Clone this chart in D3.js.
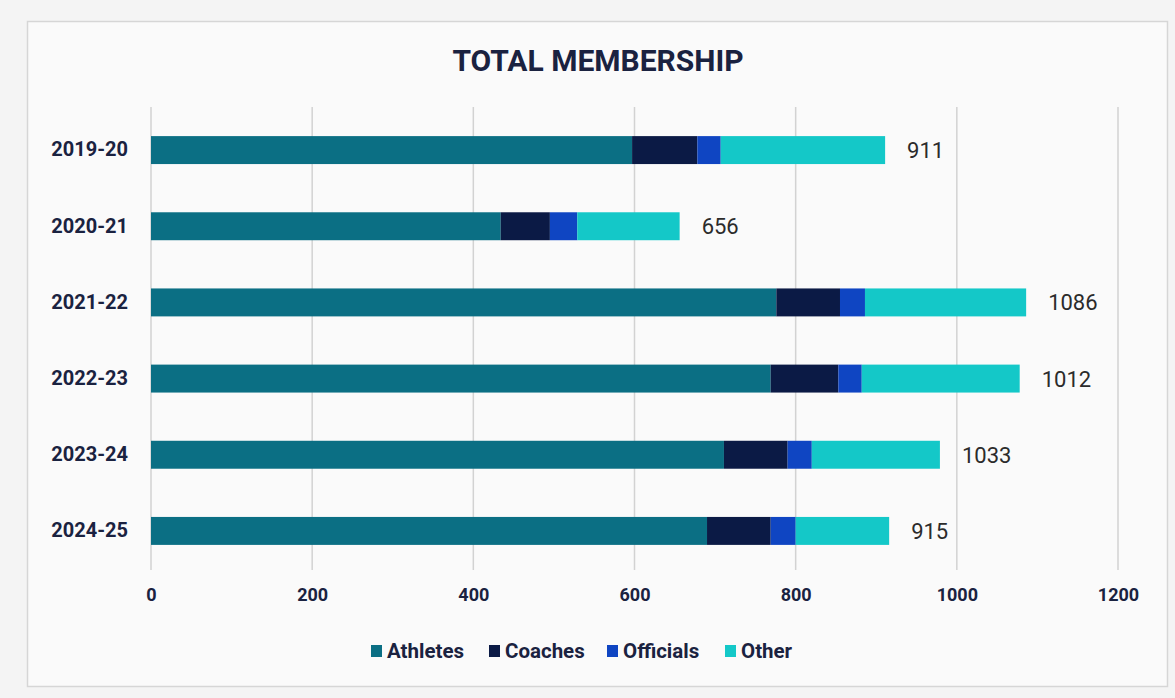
<!DOCTYPE html>
<html>
<head>
<meta charset="utf-8">
<script src="https://cdn.jsdelivr.net/npm/d3@7.9.0/dist/d3.min.js"></script>
<style>
  html, body { margin: 0; padding: 0; background: #f4f4f4; }
  svg { display: block; font-family: Roboto, "Open Sans", sans-serif; }
</style>
</head>
<body>
<div id="chart"></div>
<script>
// data
const seasons = ['2019-20', '2020-21', '2021-22', '2022-23', '2023-24', '2024-25'];
const athletes = [597, 434, 776, 769, 711, 690];
const coaches = [81, 61, 79, 84, 79, 79];
const officials = [29, 34, 31, 29, 30, 31];
const other = [204, 127, 200, 196, 159, 116];
const totalLabels = ['911', '656', '1086', '1012', '1033', '915'];
const groups = ['Athletes', 'Coaches', 'Officials', 'Other'];
const xTicks = [0, 200, 400, 600, 800, 1000, 1200];

const colors = {
  Athletes: '#0b6f84',
  Coaches: '#0b1a45',
  Officials: '#0f45c2',
  Other: '#14c8c8'
};

const width = 1175;
const height = 698;
const navy = '#1a2240';

const rows = seasons.map((s, i) => ({
  season: s,
  Athletes: athletes[i],
  Coaches: coaches[i],
  Officials: officials[i],
  Other: other[i],
  label: totalLabels[i]
}));

const svg = d3.select('#chart')
  .append('svg')
  .attr('width', width)
  .attr('height', height);

// card
svg.append('rect')
  .attr('x', 27.5).attr('y', 21.5)
  .attr('width', 1140).attr('height', 665)
  .attr('fill', '#fafafa')
  .attr('stroke', '#d6d6d6')
  .attr('stroke-width', 1.5);

svg.append('text')
  .attr('x', 598).attr('y', 71)
  .attr('text-anchor', 'middle')
  .attr('fill', navy)
  .attr('font-weight', 700)
  .attr('font-size', 30)
  .text('TOTAL MEMBERSHIP');

const xScale = d3.scaleLinear().domain([0, 1200]).range([151, 1118]);
const yScale = d3.scaleBand()
  .domain(seasons)
  .range([112, 569])
  .paddingInner(0.633)
  .paddingOuter(0.3165);

// gridlines
svg.append('g')
  .attr('class', 'gridlines')
  .selectAll('line')
  .data(xTicks)
  .join('line')
  .attr('x1', (d) => xScale(d))
  .attr('x2', (d) => xScale(d))
  .attr('y1', 107)
  .attr('y2', 570)
  .attr('stroke', '#d2d2d2')
  .attr('stroke-width', 1.5);

// x tick labels
const xAxis = svg.append('g')
  .attr('transform', 'translate(0, 588)')
  .call(d3.axisBottom(xScale).tickValues(xTicks).tickFormat(d3.format('d')).tickSize(0).tickPadding(0));
xAxis.select('.domain').remove();
xAxis.selectAll('text')
  .attr('dy', '0.71em')
  .attr('font-family', 'Roboto, sans-serif')
  .attr('font-size', 18)
  .attr('font-weight', 700)
  .attr('fill', navy);

// y labels
const yAxis = svg.append('g')
  .attr('transform', 'translate(151, 0)')
  .call(d3.axisLeft(yScale).tickSize(0).tickPadding(23));
yAxis.select('.domain').remove();
yAxis.selectAll('text')
  .attr('font-family', 'Roboto, sans-serif')
  .attr('font-size', 20)
  .attr('font-weight', 700)
  .attr('fill', navy);

// stacked bars
const stacked = d3.stack().keys(groups)(rows);
svg.append('g')
  .selectAll('g')
  .data(stacked)
  .join('g')
  .attr('fill', (d) => colors[d.key])
  .selectAll('rect')
  .data((d) => d)
  .join('rect')
  .attr('x', (d) => xScale(d[0]))
  .attr('width', (d) => xScale(d[1]) - xScale(d[0]))
  .attr('y', (d) => yScale(d.data.season))
  .attr('height', yScale.bandwidth());

// total labels
const lastLayer = stacked[stacked.length - 1];
svg.append('g')
  .selectAll('text')
  .data(lastLayer)
  .join('text')
  .attr('x', (d) => xScale(d[1]) + 22)
  .attr('y', (d) => yScale(d.data.season) + yScale.bandwidth() / 2)
  .attr('dy', '0.36em')
  .attr('font-size', 22)
  .attr('fill', '#2b2b2b')
  .text((d) => d.data.label);

// legend
const legendX = [371, 489, 607, 725];
const legend = svg.append('g')
  .selectAll('g')
  .data(groups)
  .join('g')
  .attr('transform', (d, i) => `translate(${legendX[i]}, 645)`);
legend.append('rect')
  .attr('width', 11).attr('height', 12)
  .attr('fill', (d) => colors[d]);
legend.append('text')
  .attr('x', 16).attr('y', 6)
  .attr('dy', '0.36em')
  .attr('font-size', 20.5)
  .attr('font-weight', 700)
  .attr('fill', navy)
  .text((d) => d);
</script>
</body>
</html>
